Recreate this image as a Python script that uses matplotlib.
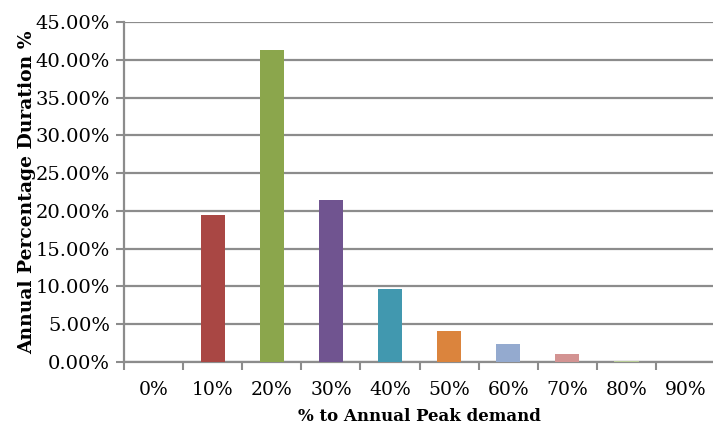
import matplotlib
matplotlib.use('Agg')
from matplotlib import pyplot as plt
from matplotlib.ticker import PercentFormatter

categories = ['0%', '10%', '20%', '30%', '40%', '50%', '60%', '70%', '80%', '90%']
durations = [0.0, 19.5, 41.3, 21.5, 9.7, 4.15, 2.42, 1.1, 0.15, 0.0]
bar_colors = ['#4F81BD', '#A94744', '#8BA64C', '#705490', '#4198AF',
              '#DB843D', '#94AACF', '#D39392', '#B9CD96', '#A99BBD']
y_ticks = [0, 5, 10, 15, 20, 25, 30, 35, 40, 45]

plt.rcParams['font.family'] = 'DejaVu Serif'

fig = plt.figure(figsize=(7.13, 4.33), dpi=100)
ax = fig.add_axes([0.174, 0.164, 0.829, 0.785])

x = range(len(categories))
ax.bar(x, durations, width=0.41, color=bar_colors, zorder=3)

# Format plot
ax.set_xlim(-0.5, len(categories) - 0.5)
ax.set_ylim(0, 45)
ax.set_yticks(y_ticks)
ax.yaxis.set_major_formatter(PercentFormatter(decimals=2))
ax.set_xticks(list(x))
ax.set_xticklabels(categories)
ax.set_xticks([i + 0.5 for i in range(-1, len(categories))], minor=True)
ax.tick_params(axis='x', which='major', length=0, pad=14, labelsize=13.5)
ax.tick_params(axis='x', which='minor', length=6, width=1.5, color='#8c8c8c', direction='out')
ax.tick_params(axis='y', length=6, width=1.5, color='#8c8c8c', labelsize=14, pad=4)

ax.grid(axis='y', color='#8c8c8c', linewidth=1.6, zorder=0)
for side in ['top', 'right']:
    ax.spines[side].set_visible(False)
for side in ['left', 'bottom']:
    ax.spines[side].set_color('#8c8c8c')
    ax.spines[side].set_linewidth(1.6)

ax.set_xlabel('% to Annual Peak demand', fontsize=12, fontweight='bold', labelpad=6)
ax.set_ylabel('Annual Percentage Duration %', fontsize=13.5, fontweight='bold', labelpad=0)

plt.savefig('out.png', dpi=100)
